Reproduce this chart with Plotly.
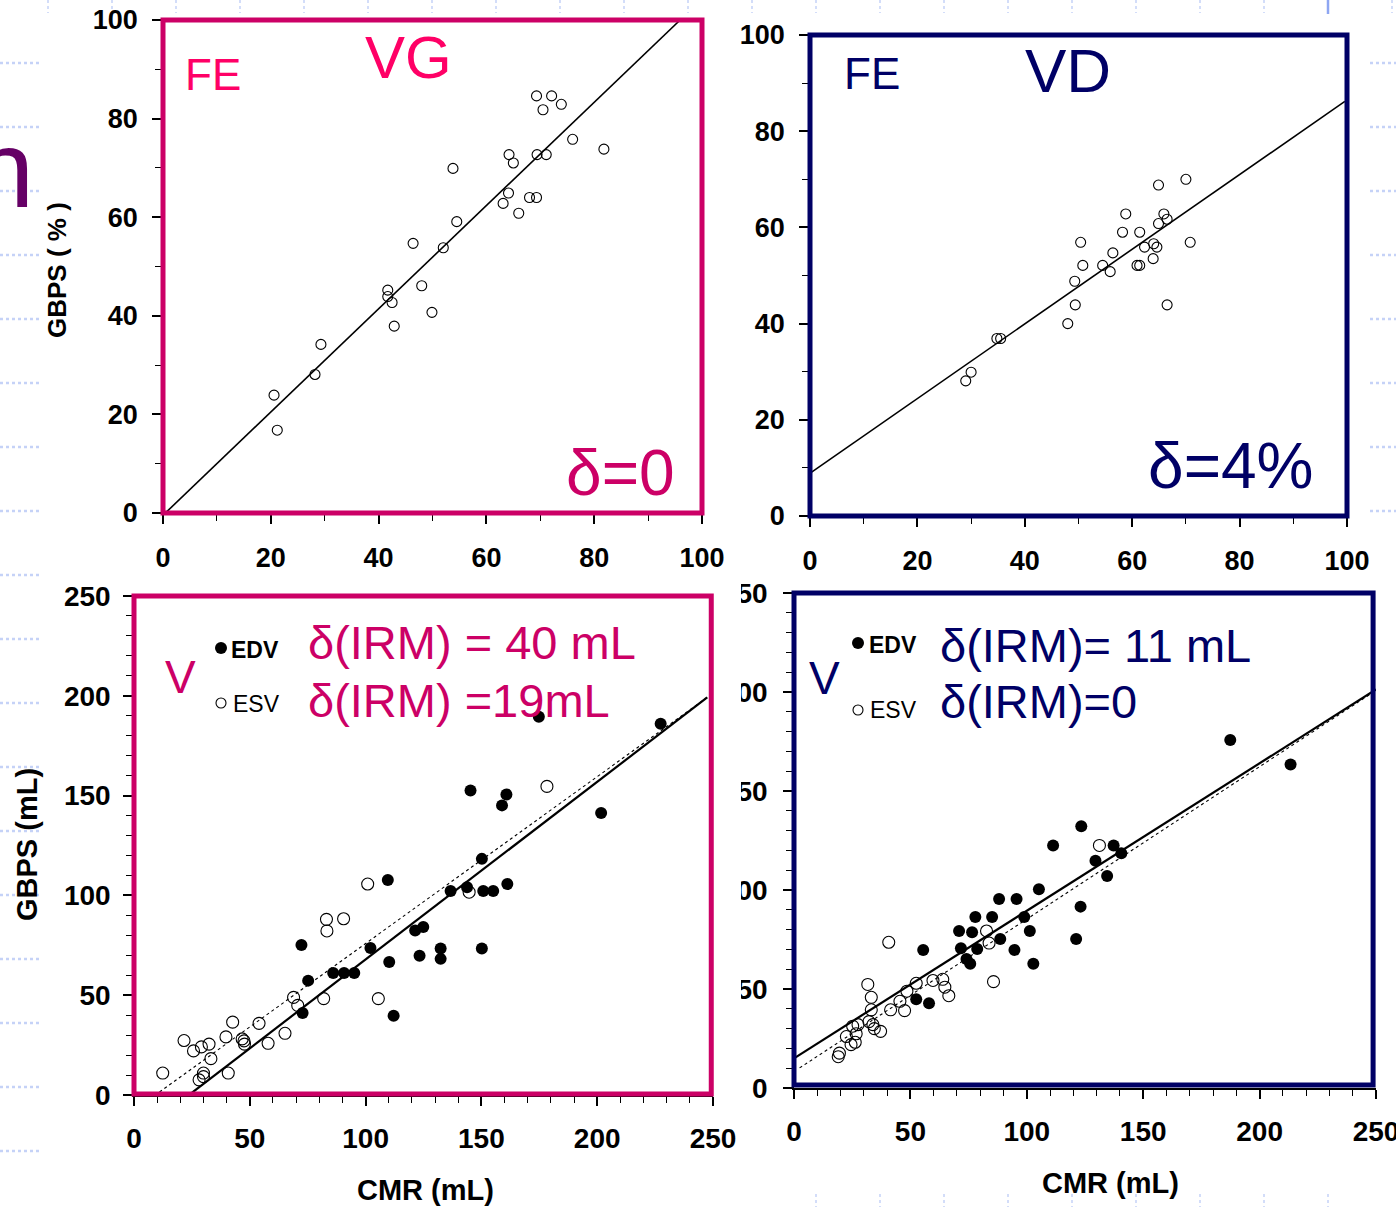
import plotly.graph_objects as go

W, H = 1396, 1207
FONT = "Liberation Sans, Arial, sans-serif"
PINK = "#cc0066"
PINK_BRIGHT = "#ff0066"
NAVY = "#000066"

# ---------------- data ----------------
# Top-left: FE, VG (CMR % vs GBPS %)
fe_vg_cmr = [20.6, 21.2, 28.2, 29.3, 41.7, 41.7, 42.5, 42.9, 46.4, 48.0, 49.9, 52.0, 53.8, 54.5,
             63.1, 64.1, 64.2, 65.0, 66.0, 68.0, 69.3, 69.3, 69.4, 70.5, 71.1, 72.1, 73.9, 76.0, 81.8]
fe_vg_gbps = [23.9, 16.8, 28.1, 34.2, 45.2, 43.9, 42.7, 37.9, 54.7, 46.1, 40.7, 53.8, 69.9, 59.1,
              62.8, 64.9, 72.7, 71.0, 60.8, 64.0, 64.0, 84.6, 72.7, 81.8, 72.7, 84.6, 82.9, 75.8, 73.8]
fe_vg_fit = [1.047, -0.46]          # slope, intercept
fe_vg_fit_x = [0.5, 95.9]

# Top-right: FE, VD
fe_vd_cmr = [29.0, 30.0, 34.8, 35.5, 48.0, 49.4, 49.3, 50.4, 50.8, 54.5, 55.9, 56.4, 58.2, 58.8,
             60.9, 61.4, 61.4, 62.3, 63.9, 64.0, 64.6, 64.9, 64.9, 65.9, 66.5, 66.5, 70.0, 70.8]
fe_vd_gbps = [28.1, 29.9, 36.9, 36.9, 40.0, 43.9, 48.8, 56.9, 52.1, 52.1, 50.8, 54.7, 59.0, 62.8,
              52.1, 52.1, 59.0, 55.9, 53.5, 56.6, 55.9, 60.8, 68.8, 62.8, 61.7, 43.9, 70.0, 56.9]
fe_vd_fit = [0.776, 8.9]
fe_vd_fit_x = [0.3, 99.6]

# Bottom-left: volumes VG
vg_edv_cmr = [72.3, 72.8, 75.2, 86.0, 90.7, 95.1, 102.1, 109.6, 110.2, 112.1, 121.4, 123.3, 124.9, 132.4,
              132.4, 136.7, 143.8, 145.3, 150.2, 150.2, 150.8, 155.1, 158.9, 160.8, 161.2, 174.8, 201.7, 227.4]
vg_edv_gbps = [75.1, 41.1, 57.3, 61.1, 61.1, 61.1, 73.6, 107.7, 66.6, 39.7, 82.4, 69.8, 84.2, 73.4,
               68.2, 102.2, 104.1, 152.6, 118.3, 73.4, 102.2, 102.2, 145.1, 150.6, 105.7, 189.5, 141.3, 186.0]
vg_esv_cmr = [12.4, 21.6, 25.7, 29.1, 28.1, 30.0, 30.0, 32.4, 33.2, 39.7, 40.7, 42.6, 46.7, 47.5,
              47.7, 54.0, 57.9, 65.2, 68.9, 70.7, 81.9, 83.1, 83.3, 90.5, 100.9, 105.5, 144.7, 178.3]
vg_esv_gbps = [11.0, 27.3, 22.1, 24.1, 7.6, 11.0, 9.2, 25.5, 18.2, 29.1, 11.0, 36.5, 28.1, 27.1,
               25.5, 35.9, 25.9, 30.9, 48.9, 44.9, 48.3, 88.0, 82.2, 88.3, 105.7, 48.3, 101.6, 154.6]
vg_edv_fit = [0.890, -21.1]
vg_edv_fit_x = [24.5, 247.5]
vg_esv_fit = [0.836, -7.7]
vg_esv_fit_x = [11.0, 247.5]

# Bottom-right: volumes VD
vd_edv_cmr = [52.5, 58.0, 55.5, 70.9, 71.7, 74.1, 75.7, 76.5, 77.9, 78.7, 85.1, 88.1, 88.6, 94.7, 95.6,
              98.9, 101.3, 102.8, 105.2, 111.3, 121.2, 123.1, 123.4, 129.5, 134.5, 137.3, 140.6, 187.4, 213.3]
vd_edv_gbps = [44.8, 42.8, 69.7, 79.3, 70.6, 65.1, 62.7, 78.7, 86.4, 70.2, 86.4, 95.5, 75.2, 69.7, 95.5,
               86.4, 79.3, 62.7, 100.4, 122.5, 75.2, 91.6, 132.2, 114.8, 107.1, 122.5, 118.6, 175.8, 163.4]
vd_esv_cmr = [19.0, 19.5, 22.5, 24.5, 25.2, 26.3, 26.7, 27.5, 31.7, 32.2, 33.2, 33.2, 33.9, 34.5, 37.2,
              40.7, 41.5, 45.5, 47.5, 48.5, 52.5, 59.7, 63.9, 64.8, 66.5, 82.7, 83.8, 85.7, 131.2]
vd_esv_gbps = [15.8, 17.6, 26.0, 21.9, 31.2, 23.1, 27.4, 32.0, 52.3, 33.5, 45.8, 39.5, 32.0, 30.0, 28.6,
               73.6, 39.5, 43.8, 39.1, 48.9, 52.9, 54.3, 54.9, 50.9, 46.6, 79.3, 73.2, 53.7, 122.5]
vd_edv_fit = [0.745, 15.0]
vd_edv_fit_x = [0.5, 250.0]
vd_esv_fit = [0.770, 8.3]
vd_esv_fit_x = [2.4, 250.0]

pct_ticks = [0, 20, 40, 60, 80, 100]
vol_ticks = [0, 50, 100, 150, 200, 250]


# ---------------- helpers ----------------
def fx(px):
    return px / W


def fy(py):
    return 1 - py / H


def fit_line(coef, xs):
    return [coef[0] * x + coef[1] for x in xs]


fig = go.Figure()


def open_pts(x, y, axis, size=10):
    fig.add_trace(go.Scatter(x=x, y=y, mode="markers", xaxis="x" + axis, yaxis="y" + axis,
                             marker=dict(symbol="circle-open", size=size, color="black",
                                         line=dict(width=1.1, color="black")),
                             cliponaxis=False, showlegend=False))


def filled_pts(x, y, axis, size=12):
    fig.add_trace(go.Scatter(x=x, y=y, mode="markers", xaxis="x" + axis, yaxis="y" + axis,
                             marker=dict(symbol="circle", size=size, color="black"),
                             cliponaxis=False, showlegend=False))


def line(coef, xs, axis, dash="solid", width=1.6):
    fig.add_trace(go.Scatter(x=xs, y=fit_line(coef, xs), mode="lines", xaxis="x" + axis,
                             yaxis="y" + axis, line=dict(color="black", width=width, dash=dash),
                             showlegend=False))


# top-left
line(fe_vg_fit, fe_vg_fit_x, "")
open_pts(fe_vg_cmr, fe_vg_gbps, "")
# top-right
line(fe_vd_fit, fe_vd_fit_x, "2")
open_pts(fe_vd_cmr, fe_vd_gbps, "2")
# bottom-left
line(vg_esv_fit, vg_esv_fit_x, "3", dash="dot", width=1.1)
line(vg_edv_fit, vg_edv_fit_x, "3", width=2.2)
open_pts(vg_esv_cmr, vg_esv_gbps, "3", size=12)
filled_pts(vg_edv_cmr, vg_edv_gbps, "3")
# bottom-right
line(vd_esv_fit, vd_esv_fit_x, "4", dash="dot", width=1.1)
line(vd_edv_fit, vd_edv_fit_x, "4", width=2.2)
open_pts(vd_esv_cmr, vd_esv_gbps, "4", size=12)
filled_pts(vd_edv_cmr, vd_edv_gbps, "4")


def axis(domain, rng, ticks, anchor, standoff, size):
    return dict(domain=domain, range=rng, tickmode="array", tickvals=ticks,
                ticktext=[str(t) for t in ticks], ticks="outside", ticklen=9, tickwidth=1.5,
                tickcolor="black", showline=True, linecolor="black", linewidth=1.5,
                showgrid=False, zeroline=False, anchor=anchor, ticklabelstandoff=standoff,
                automargin=False, ticklabeloverflow="allow",
                minor=dict(tickmode="linear", tick0=0, dtick=10, ticks="outside", ticklen=6,
                           tickwidth=1.3, tickcolor="black"),
                tickfont=dict(family=FONT, size=size, color="black", weight="bold"),
                fixedrange=True)


layout = dict(
    width=W, height=H, margin=dict(l=0, r=0, t=0, b=0, autoexpand=False),
    paper_bgcolor="white", plot_bgcolor="rgba(0,0,0,0)",
    xaxis=axis([fx(163), fx(702)], [0, 100], pct_ticks, "y", 11, 27),
    yaxis=axis([fy(513), fy(20)], [0, 100], pct_ticks, "x", 9, 27),
    xaxis2=axis([fx(810), fx(1347)], [0, 100], pct_ticks, "y2", 11, 27),
    yaxis2=axis([fy(516), fy(35)], [0, 100], pct_ticks, "x2", 9, 27),
    xaxis3=axis([fx(134), fx(713)], [0, 250], vol_ticks, "y3", 9, 28),
    yaxis3=axis([fy(1095), fy(596)], [0, 250], vol_ticks, "x3", 7, 28),
    xaxis4=axis([fx(794), fx(1376)], [0, 250], vol_ticks, "y4", 9, 28),
    yaxis4=axis([fy(1088), fy(593)], [0, 250], vol_ticks, "x4", 10, 28),
)
fig.update_layout(**layout)

shapes = []
# decorative slide background: dotted light-blue guides
DECO = "#c5d2f7"
for k in range(18):
    y = 63 + 64 * k
    shapes.append(dict(type="line", xref="paper", yref="paper", x0=0, x1=fx(42), y0=fy(y), y1=fy(y),
                       line=dict(color=DECO, width=2.5, dash="dot"), layer="below"))
for k in range(8):
    y = 63 + 64 * k
    shapes.append(dict(type="line", xref="paper", yref="paper", x0=fx(1370), x1=1, y0=fy(y), y1=fy(y),
                       line=dict(color=DECO, width=2.5, dash="dot"), layer="below"))
for k in range(22):
    x = 48 + 64 * k
    if k == 20:
        shapes.append(dict(type="line", xref="paper", yref="paper", x0=fx(x), x1=fx(x), y0=1, y1=fy(14),
                           line=dict(color="#8ea6f2", width=2.5), layer="below"))
    else:
        shapes.append(dict(type="line", xref="paper", yref="paper", x0=fx(x), x1=fx(x), y0=1, y1=fy(13),
                           line=dict(color=DECO, width=1.5, dash="dot"), layer="below"))
for k in range(12, 21):
    x = 48 + 64 * k
    shapes.append(dict(type="line", xref="paper", yref="paper", x0=fx(x), x1=fx(x), y0=fy(1194), y1=0,
                       line=dict(color=DECO, width=1.5, dash="dot"), layer="below"))

# cover clipping the left part of the bottom-right y tick labels
shapes.append(dict(type="rect", xref="paper", yref="paper", x0=fx(717), x1=fx(741), y0=fy(1100), y1=fy(580),
                   fillcolor="white", line=dict(width=0), layer="above"))

# coloured frames
FRAME_W = 5
for ax_x, ax_y, col, x1, y0 in [("x", "y", PINK, 1, 0), ("x2", "y2", NAVY, 1, 0),
                                ("x3", "y3", PINK, 0.997, 0.002), ("x4", "y4", NAVY, 0.995, 0.006)]:
    shapes.append(dict(type="rect", xref=ax_x + " domain", yref=ax_y + " domain", x0=0, x1=x1, y0=y0, y1=1,
                       line=dict(color=col, width=FRAME_W), fillcolor="rgba(0,0,0,0)", layer="above"))


# legend-like bullets in the slide text
def bullet(px, py, d, filled):
    r = d / 2
    shapes.append(dict(type="circle", xref="paper", yref="paper",
                       x0=fx(px - r), x1=fx(px + r), y0=fy(py + r), y1=fy(py - r),
                       fillcolor="black" if filled else "white",
                       line=dict(color="black", width=0 if filled else 1.1), layer="above"))


bullet(221, 648, 12, True)
bullet(221, 703, 10, False)
bullet(858, 643, 12, True)
bullet(858, 710, 10, False)
fig.update_layout(shapes=shapes)


def ann(text, px, py, size, color, xanchor="center", yanchor="middle", weight="normal", angle=0):
    return dict(text=text, x=fx(px), y=fy(py), xref="paper", yref="paper", showarrow=False,
                xanchor=xanchor, yanchor=yanchor, textangle=angle,
                font=dict(family=FONT, size=size, color=color, weight=weight))


annotations = [
    # slide title fragment
    ann("n", 36, 168, 110, "#660066", xanchor="right"),
    # axis titles
    ann("GBPS ( % )", 57, 270, 26, "black", weight="bold", angle=-90),
    ann("GBPS (mL)", 27, 845, 29, "black", weight="bold", angle=-90),
    ann("CMR (mL)", 425, 1190, 29, "black", weight="bold"),
    ann("CMR (mL)", 1110, 1183, 29, "black", weight="bold"),
    # top-left
    ann("FE", 213, 75, 44, PINK_BRIGHT),
    ann("VG", 408, 57, 60, PINK_BRIGHT),
    ann("δ=0", 620, 473, 64, PINK),
    # top-right
    ann("FE", 872, 73, 44, NAVY),
    ann("VD", 1068, 70, 62, NAVY),
    ann("δ=4%", 1231, 466, 64, NAVY),
    # bottom-left
    ann("V", 180, 677, 46, PINK),
    ann("EDV", 229, 650, 23, "black", xanchor="left", weight="bold"),
    ann("ESV", 231, 704, 23, "black", xanchor="left"),
    ann("δ(IRM) = 40 mL", 306, 642, 47, PINK, xanchor="left"),
    ann("δ(IRM) =19mL", 306, 700, 47, PINK, xanchor="left"),
    # bottom-right
    ann("V", 824, 678, 46, NAVY),
    ann("EDV", 867, 645, 23, "black", xanchor="left", weight="bold"),
    ann("ESV", 868, 710, 23, "black", xanchor="left"),
    ann("δ(IRM)= 11 mL", 938, 645, 47, NAVY, xanchor="left"),
    ann("δ(IRM)=0", 938, 701, 47, NAVY, xanchor="left"),
]
fig.update_layout(annotations=annotations)

fig.write_html("out.html", config={"displayModeBar": False},
               post_script="document.body.style.margin='0px';document.body.style.overflow='hidden';")
